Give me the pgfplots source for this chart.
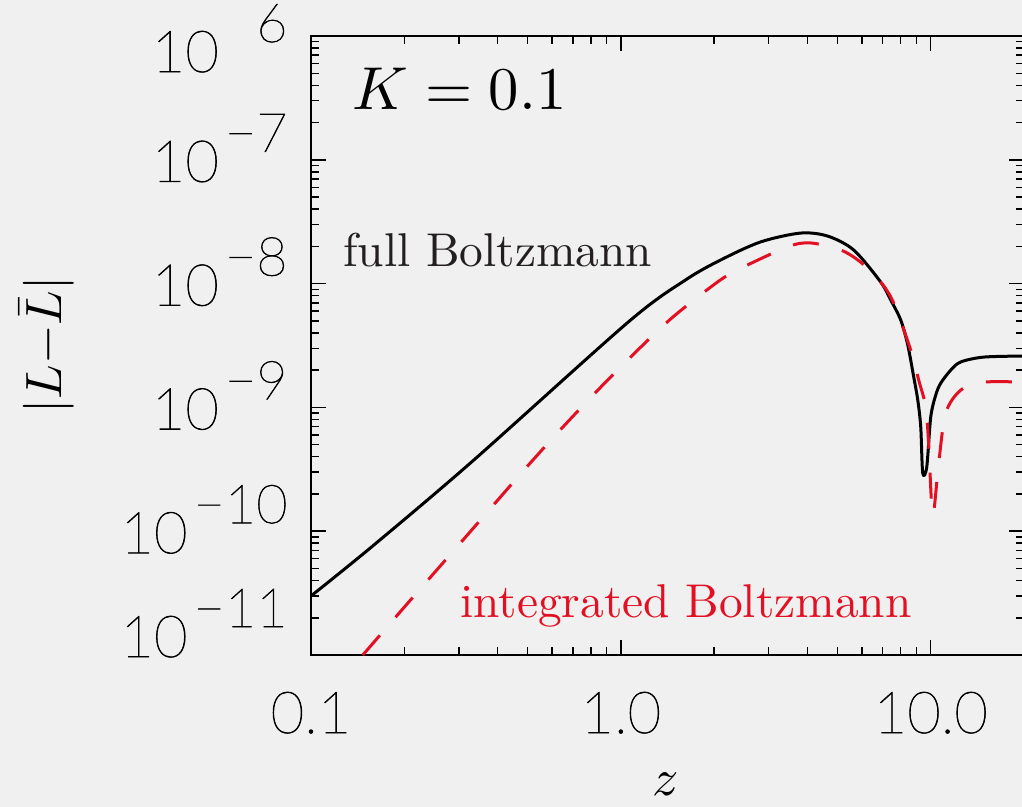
\documentclass[border=0pt]{standalone}
\usepackage{fontspec}
\usepackage{graphicx}
\usepackage{pgfplots}
\pgfplotsset{compat=1.18}

% thin sans face for the tick numbers, given a little extra stroke
\IfFontExistsTF{Lato Thin}
  {\newfontfamily\tickfont{Lato Thin}[FakeBold=1.2, AutoFakeBold=1.2]}
  {\IfFontExistsTF{Open Sans Light}
     {\newfontfamily\tickfont{Open Sans Light}}
     {\newfontfamily\tickfont{DejaVu Sans}}}

\definecolor{bgc}{RGB}{240,240,240}
\definecolor{redc}{RGB}{226,16,34}
\definecolor{txtc}{RGB}{35,31,32}

\newcommand\tlfont{\tickfont\bfseries\fontsize{29pt}{29pt}\selectfont}
\newcommand\ylab[1]{\mbox{\tlfont 10\hspace{3pt}\raisebox{15pt}{\fontsize{27pt}{27pt}\selectfont #1}}}
% labels set at 10pt and enlarged, so the glyphs keep the 10pt design
\newcommand\enlarged[2]{\scalebox{#1}{\fontsize{10pt}{12pt}\selectfont #2}}

\begin{document}
\begin{tikzpicture}
\fill[bgc] (-155.5pt,-76pt) rectangle (355.5pt,327.5pt);
\begin{axis}[
  at={(0pt,0pt)}, anchor=south west,
  width=356.5pt, height=309.5pt, scale only axis,
  xmode=log, ymode=log,
  xmin=0.1, xmax=20, ymin=1e-11, ymax=1e-6,
  axis line style={line width=1pt, black},
  every tick/.style={black, line width=0.75pt},
  major tick length=7.5pt, minor tick length=4pt,
  tick align=inside,
  xtick={0.1,1,10},
  xticklabels={0.1,1.0,10.0},
  minor xtick={0.2,0.3,0.4,0.5,0.6,0.7,0.8,0.9,2,3,4,5,6,7,8,9,20},
  ytick={1e-11,1e-10,1e-9,1e-8,1e-7,1e-6},
  yticklabels={\raisebox{10pt}{\ylab{−11}},\ylab{−10},\ylab{−9},\ylab{−8},\ylab{−7},\raisebox{-7pt}{\ylab{\phantom{−}6}}},
  minor ytick={2e-11,3e-11,4e-11,5e-11,6e-11,7e-11,8e-11,9e-11,
               2e-10,3e-10,4e-10,5e-10,6e-10,7e-10,8e-10,9e-10,
               2e-9,3e-9,4e-9,5e-9,6e-9,7e-9,8e-9,9e-9,
               2e-8,3e-8,4e-8,5e-8,6e-8,7e-8,8e-8,9e-8,
               2e-7,3e-7,4e-7,5e-7,6e-7,7e-7,8e-7,9e-7},
  xticklabel pos=lower, yticklabel pos=left,
  xticklabel style={anchor=base, inner sep=0pt, yshift=-39pt, font=\tlfont},
  yticklabel style={anchor=base east, inner sep=0pt, xshift=-11.5pt, yshift=-11pt},
  clip=true,
]
% full Boltzmann solution
\addplot[black, line width=1.5pt, smooth, tension=0.5, line join=round] table {
z       v
0.1     2.998e-11
0.1571  7.49e-11
0.3305  3.640e-10
1.0597  4.924e-9
1.6157  1.069e-8
2.097   1.55e-8
2.823   2.17e-8
3.802   2.56e-8
4.648   2.42e-8
5.639   1.87e-8
6.894   1.03e-8
7.43    7.36e-9
8.001   5.08e-9
8.43    3.19e-9
8.813   1.76e-9
9.08    1.15e-9
9.284   6.95e-10
9.423   2.95e-10
9.707   3.30e-10
10.0    8.36e-10
10.38   1.26e-9
10.77   1.57e-9
11.6    2.00e-9
12.50   2.33e-9
14.84   2.55e-9
20.0    2.60e-9
};
% integrated Boltzmann solution
\addplot[redc, line width=1.5pt, dash pattern=on 13pt off 12pt, smooth, tension=0.5] table {
z       v
0.147   1.00e-11
0.1964  2.31e-11
0.3264  9.90e-11
0.4816  3.024e-10
0.6295  6.364e-10
0.8273  1.315e-9
1.100   2.700e-9
1.4637  5.304e-9
2.0099  9.93e-9
2.379   1.29e-8
3.451   1.98e-8
4.096   2.13e-8
5.120   1.87e-8
5.940   1.49e-8
6.894   1.03e-8
7.594   6.97e-9
8.618   2.91e-9
9.146   1.66e-9
9.634   1.01e-9
9.851   4.97e-10
10.15   1.35e-10
10.61   3.56e-10
11.18   9.02e-10
12.50   1.38e-9
14.84   1.60e-9
20.0    1.60e-9
};
\end{axis}
\node[anchor=base west, inner sep=0pt] at (20.5pt,272.5pt) {\enlarged{3.03}{$K = 0.1$}};
\node[anchor=base west, inner sep=0pt, text=txtc] at (16pt,194pt) {\enlarged{2.37}{full Boltzmann}};
\node[anchor=base west, inner sep=0pt, text=redc] at (74.5pt,18.5pt) {\enlarged{2.37}{integrated Boltzmann}};
\node[anchor=base, inner sep=0pt] at (177.5pt,-70.5pt) {\enlarged{2.6}{$z$}};
\node[rotate=90, inner sep=0pt] at (-132pt,155pt) {\enlarged{2.55}{$|L{-}\bar{L}|$}};
\pgfresetboundingbox
\useasboundingbox (-155.5pt,-76pt) rectangle (355.5pt,327.5pt);
\end{tikzpicture}
\end{document}
